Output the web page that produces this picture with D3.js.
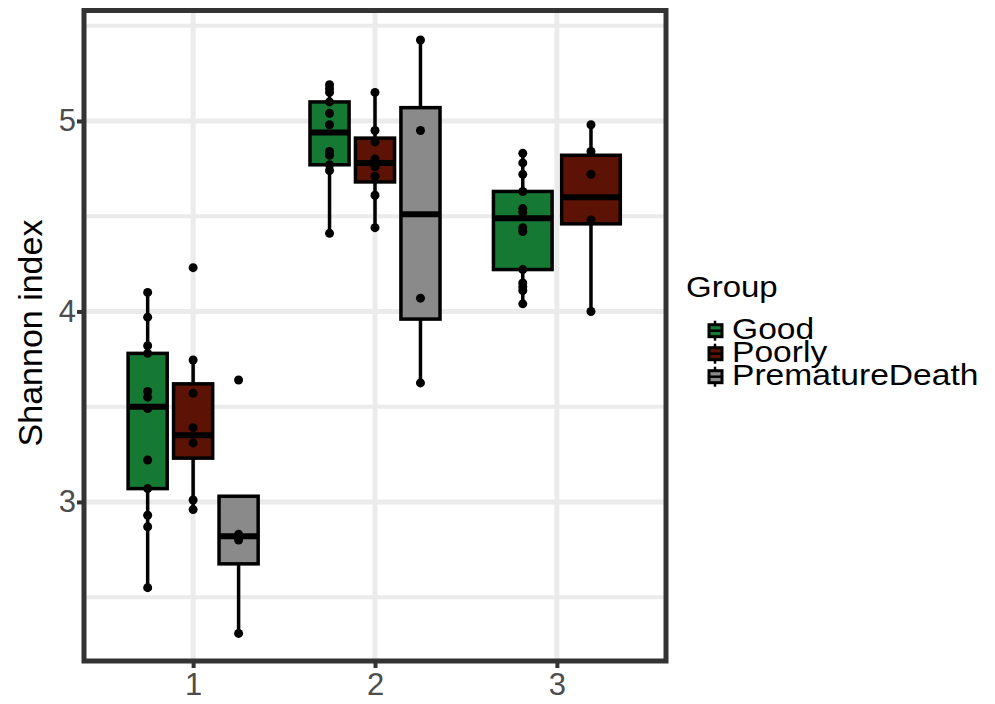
<!DOCTYPE html>
<html>
<head>
<meta charset="utf-8">
<script src="https://cdn.jsdelivr.net/npm/d3@7"></script>
<style>
body { margin: 0; background: #fff; }
text { font-family: "Liberation Sans", Arial, sans-serif; }
</style>
</head>
<body>
<svg id="chart"></svg>
<script>
var timepoints = ["1", "2", "3"];
var groups = ["Good", "Poorly", "PrematureDeath"];

// box stats per timepoint: [whisker low, q1, median, q3, whisker high], null = no box
var goodBoxes = [[2.55, 3.07, 3.50, 3.78, 4.10], [4.41, 4.77, 4.94, 5.10, 5.19], [4.04, 4.22, 4.49, 4.63, 4.83]];
var poorlyBoxes = [[2.96, 3.23, 3.35, 3.62, 3.745], [4.44, 4.68, 4.78, 4.91, 5.15], [4.00, 4.46, 4.60, 4.82, 4.98]];
var deathBoxes = [[2.31, 2.675, 2.82, 3.03, 3.03], [3.625, 3.96, 4.51, 5.07, 5.425], null];

// the single samples (dots)
var goodPoints = [
    [4.10, 3.97, 3.82, 3.78, 3.58, 3.55, 3.49, 3.22, 3.07, 2.93, 2.87, 2.55],
    [5.19, 5.17, 5.15, 5.10, 5.04, 4.98, 4.84, 4.82, 4.77, 4.74, 4.41],
    [4.83, 4.78, 4.72, 4.63, 4.54, 4.52, 4.44, 4.42, 4.22, 4.15, 4.13, 4.11, 4.04]];
var poorlyPoints = [
    [4.23, 3.745, 3.57, 3.39, 3.31, 3.01, 2.96],
    [5.15, 4.95, 4.89, 4.80, 4.76, 4.71, 4.61, 4.44],
    [4.98, 4.84, 4.72, 4.48, 4.00]];
var deathPoints = [
    [3.64, 2.83, 2.80, 2.31],
    [5.425, 4.95, 4.07, 3.625],
    []];

var yMajor = [3, 4, 5];
var yMinor = [2.5, 3.5, 4.5, 5.5];

var screen = {width: 995, height: 704};
var panel = {left: 84, right: 666, top: 10.5, bottom: 661};

var colors = d3.scaleOrdinal().domain(groups).range(["#157833", "#5c1205", "#8a8a8a"]);

var allBoxes = [goodBoxes, poorlyBoxes, deathBoxes];
var allPoints = [goodPoints, poorlyPoints, deathPoints];

var xScale = d3.scaleLinear().domain([0.4, 3.6]).range([panel.left, panel.right]);
var yScale = d3.scaleLinear().domain([2.165, 5.58]).range([panel.bottom, panel.top]);

var svg = d3.select("#chart")
    .attr("width", screen.width)
    .attr("height", screen.height);

// gridlines first
var grid = svg.append("g").attr("class", "grid");
grid.selectAll(".minor").data(yMinor).enter().append("line")
    .attr("x1", panel.left).attr("x2", panel.right)
    .attr("y1", function(d) { return yScale(d) })
    .attr("y2", function(d) { return yScale(d) })
    .attr("stroke", "#ebebeb").attr("stroke-width", 4);
grid.selectAll(".majorY").data(yMajor).enter().append("line")
    .attr("x1", panel.left).attr("x2", panel.right)
    .attr("y1", function(d) { return yScale(d) })
    .attr("y2", function(d) { return yScale(d) })
    .attr("stroke", "#ebebeb").attr("stroke-width", 5);
grid.selectAll(".majorX").data(timepoints).enter().append("line")
    .attr("y1", panel.top).attr("y2", panel.bottom)
    .attr("x1", function(d) { return xScale(+d) })
    .attr("x2", function(d) { return xScale(+d) })
    .attr("stroke", "#ebebeb").attr("stroke-width", 5);

// build one record per box, dodge by how many groups are present at that timepoint
var records = [];
timepoints.forEach(function(t, i)
{
    var present = groups.filter(function(g, j) { return allBoxes[j][i] != null });
    var slot = 0.75 / present.length;
    present.forEach(function(g, k)
    {
        var j = groups.indexOf(g);
        var s = allBoxes[j][i];
        records.push({
            group: g, time: +t, slot: slot,
            center: +t + (k - (present.length - 1) / 2) * slot,
            lo: s[0], q1: s[1], med: s[2], q3: s[3], hi: s[4],
            points: allPoints[j][i]
        });
    });
});

var unit = xScale(1) - xScale(0);
var boxes = svg.append("g").selectAll(".box").data(records).enter()
    .append("g").attr("class", "box");

boxes.append("line")
    .attr("x1", function(d) { return xScale(d.center) })
    .attr("x2", function(d) { return xScale(d.center) })
    .attr("y1", function(d) { return yScale(d.lo) })
    .attr("y2", function(d) { return yScale(d.hi) })
    .attr("stroke", "black").attr("stroke-width", 3.5);

boxes.append("rect")
    .attr("x", function(d) { return xScale(d.center) - d.slot * unit * 0.43 })
    .attr("width", function(d) { return d.slot * unit * 0.86 })
    .attr("y", function(d) { return yScale(d.q3) })
    .attr("height", function(d) { return yScale(d.q1) - yScale(d.q3) })
    .attr("fill", function(d) { return colors(d.group) })
    .attr("stroke", "black").attr("stroke-width", 3.5);

boxes.append("line")
    .attr("x1", function(d) { return xScale(d.center) - d.slot * unit * 0.43 })
    .attr("x2", function(d) { return xScale(d.center) + d.slot * unit * 0.43 })
    .attr("y1", function(d) { return yScale(d.med) })
    .attr("y2", function(d) { return yScale(d.med) })
    .attr("stroke", "black").attr("stroke-width", 6);

boxes.selectAll(".pt").data(function(d) { return d.points.map(function(v) { return {x: d.center, v: v} }) })
    .enter().append("circle").attr("class", "pt")
    .attr("cx", function(p) { return xScale(p.x) })
    .attr("cy", function(p) { return yScale(p.v) })
    .attr("r", 4.5)
    .attr("fill", "black");

// panel border
svg.append("rect")
    .attr("x", panel.left).attr("y", panel.top)
    .attr("width", panel.right - panel.left)
    .attr("height", panel.bottom - panel.top)
    .attr("fill", "none").attr("stroke", "#333333").attr("stroke-width", 5);

// axes
var yAxis = svg.append("g")
    .attr("transform", "translate(" + (panel.left - 1) + ",0)")
    .call(d3.axisLeft(yScale).tickValues(yMajor).tickSize(6).tickPadding(1).tickFormat(d3.format("d")));
var xAxis = svg.append("g")
    .attr("transform", "translate(0," + (panel.bottom + 1) + ")")
    .call(d3.axisBottom(xScale).tickValues(timepoints.map(Number)).tickSize(6).tickPadding(5).tickFormat(d3.format("d")));

[yAxis, xAxis].forEach(function(a)
{
    a.select(".domain").remove();
    a.selectAll(".tick line").attr("stroke", "#333333").attr("stroke-width", 4);
    a.selectAll(".tick text").attr("fill", "#4d4d4d")
        .style("font-size", "31px").style("font-family", "'Liberation Sans', Arial, sans-serif");
});

svg.append("text")
    .attr("transform", "translate(42,333) rotate(-90)")
    .attr("text-anchor", "middle")
    .style("font-size", "34px")
    .text("Shannon index");

// legend
var legend = svg.append("g").attr("transform", "translate(686,0)");
legend.append("text").attr("transform", "translate(0,297) scale(1.1,1)")
    .style("font-size", "30px").text("Group");

var keys = legend.selectAll(".key").data(groups).enter().append("g")
    .attr("class", "key")
    .attr("transform", function(d, i) { return "translate(0," + (330.7 + i * 23) + ")" });
keys.append("line").attr("x1", 29).attr("x2", 29).attr("y1", -10).attr("y2", 10)
    .attr("stroke", "black").attr("stroke-width", 2.5);
keys.append("rect").attr("x", 23).attr("y", -6).attr("width", 13).attr("height", 12)
    .attr("fill", function(d) { return colors(d) })
    .attr("stroke", "black").attr("stroke-width", 3);
keys.append("line").attr("x1", 23).attr("x2", 36).attr("y1", 0).attr("y2", 0)
    .attr("stroke", "black").attr("stroke-width", 2.5);
keys.append("text").attr("transform", "translate(46,8) scale(1.12,1)")
    .style("font-size", "30px")
    .text(function(d) { return d });
</script>
</body>
</html>
